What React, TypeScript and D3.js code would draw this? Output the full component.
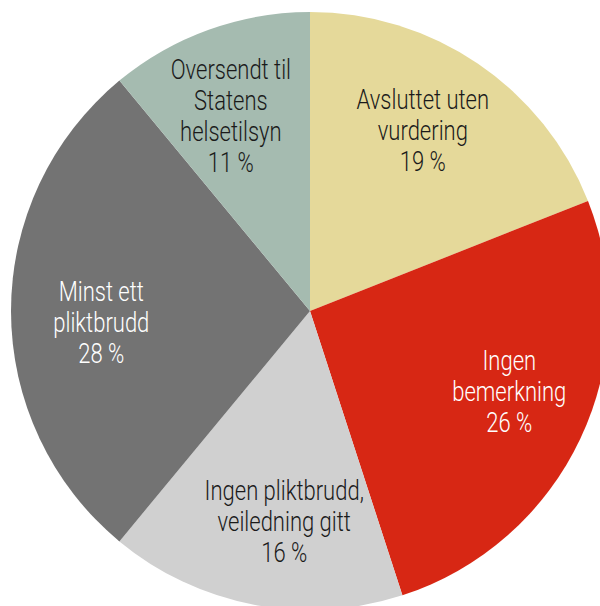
import React, { useEffect, useRef } from 'react';
import * as d3 from 'd3';

// slices clockwise from 12 o'clock
const categories = [
    'Avsluttet uten vurdering',
    'Ingen bemerkning',
    'Ingen pliktbrudd, veiledning gitt',
    'Minst ett pliktbrudd',
    'Oversendt til Statens helsetilsyn',
];
const values = [19, 26, 16, 28, 11];
const labelLines = [
    ['Avsluttet uten', 'vurdering'],
    ['Ingen', 'bemerkning'],
    ['Ingen pliktbrudd,', 'veiledning gitt'],
    ['Minst ett', 'pliktbrudd'],
    ['Oversendt til', 'Statens', 'helsetilsyn'],
];
const colors = ['#e5d99a', '#d72714', '#d0d0d0', '#737373', '#a5bbb0'];
const textColors = ['#1a1a1a', '#ffffff', '#1a1a1a', '#ffffff', '#1a1a1a'];

type Slice = { name: string; value: number; i: number };

const App: React.FC = () => {
    const ref = useRef<SVGSVGElement>(null);

    useEffect(() => {
        if (!ref.current) return;
        const svg = d3.select(ref.current);
        svg.selectAll('*').remove();

        const cx = 310;
        const cy = 311;
        const radius = 299;
        const labelR = 212;
        const labelShift = (-3 * Math.PI) / 180; // labels sit a little counter-clockwise of mid
        const lineH = 31;

        const data: Slice[] = categories.map((name, i) => ({ name, value: values[i], i }));

        const pie = d3.pie<Slice>().sort(null).value(d => d.value);
        const arc = d3.arc<d3.PieArcDatum<Slice>>().innerRadius(0).outerRadius(radius);

        const g = svg.append('g').attr('transform', `translate(${cx},${cy})`);
        const arcs = pie(data);

        g.selectAll('path')
            .data(arcs)
            .enter().append('path')
            .attr('d', arc)
            .attr('fill', d => colors[d.data.i]);

        const labels = g.selectAll('text')
            .data(arcs)
            .enter().append('text')
            .attr('text-anchor', 'middle')
            .attr('font-family', 'Roboto, "Liberation Sans", sans-serif')
            .attr('font-weight', 300)
            .attr('font-size', 27.5)
            .attr('fill', d => textColors[d.data.i])
            .attr('transform', d => {
                const mid = (d.startAngle + d.endAngle) / 2 + labelShift;
                const [x, y] = d3.pointRadial(mid, labelR);
                const n = labelLines[d.data.i].length + 1;
                return `translate(${x + 3},${y - ((n - 1) * lineH) / 2 + 10}) scale(0.8,1)`;
            });

        labels.each(function (d) {
            const t = d3.select(this);
            const lines = [...labelLines[d.data.i], `${d.data.value} %`];
            lines.forEach((l, k) => {
                t.append('tspan').attr('x', 0).attr('y', k * lineH).text(l);
            });
        });
    }, []);

    return (
        <svg
            ref={ref}
            width={600}
            height={606}
            style={{ position: 'absolute', left: 0, top: 0, background: '#fff' }}
        />
    );
};

export default App;
